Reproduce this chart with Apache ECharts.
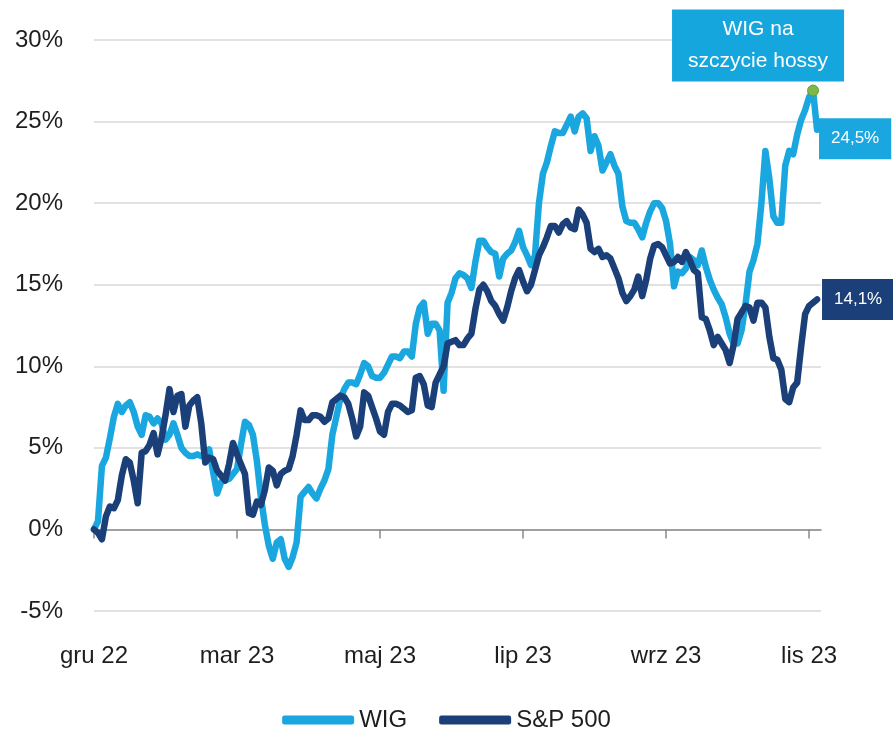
<!DOCTYPE html>
<html><head><meta charset="utf-8">
<script src="https://cdn.jsdelivr.net/npm/echarts/dist/echarts.min.js"></script>
<style>html,body{margin:0;padding:0;background:#fff}#c{width:893px;height:732px}</style>
</head><body><div id="c"></div>
<script>
// Category ticks (every 36 trading-day steps)
const tickLabels = ['gru 22', 'mar 23', 'maj 23', 'lip 23', 'wrz 23', 'lis 23'];
const tickStep = 36;
const seriesNames = ['WIG', 'S&P 500'];
const annotationText = 'WIG na\nszczycie hossy';

// Cumulative return, %
const wig = [
  0.0, 0.5, 3.9, 4.4, 5.6, 6.9, 7.7, 7.2, 7.6, 7.8,
  7.2, 6.3, 5.8, 7.0, 6.9, 6.5, 6.8, 6.5, 5.5, 5.8,
  6.5, 5.8, 5.0, 4.7, 4.5, 4.5, 4.6, 4.5, 4.6, 4.9,
  3.5, 2.2, 2.9, 3.0, 3.1, 3.4, 3.7, 5.2, 6.6, 6.4,
  5.8, 4.2, 2.0, 0.3, -1.0, -1.8, -0.8, -0.6, -1.8, -2.3,
  -1.7, -0.8, 2.0, 2.3, 2.6, 2.2, 1.9, 2.5, 3.0, 3.7,
  5.8, 6.9, 8.0, 8.6, 9.0, 9.0, 8.9, 9.5, 10.2, 10.0,
  9.4, 9.3, 9.3, 9.6, 10.1, 10.6, 10.6, 10.5, 10.9, 10.9,
  10.6, 12.6, 13.6, 13.9, 12.0, 12.6, 12.6, 12.2, 8.5, 13.9,
  14.5, 15.4, 15.7, 15.6, 15.4, 14.8, 16.4, 17.7, 17.7, 17.3,
  17.0, 16.9, 15.5, 16.6, 16.9, 17.1, 17.6, 18.3, 17.3, 16.8,
  16.2, 16.8, 20.0, 21.8, 22.5, 23.5, 24.4, 24.3, 24.3, 24.8,
  25.3, 24.4, 25.3, 25.5, 25.2, 23.2, 24.1, 23.5, 22.0, 22.5,
  23.0, 22.3, 21.8, 19.8, 18.9, 18.8, 18.8, 18.4, 17.9, 18.8,
  19.5, 20.0, 20.0, 19.7, 18.9, 17.5, 14.9, 15.8, 15.7, 16.0,
  16.7, 16.5, 16.2, 17.1, 16.1, 15.3, 14.7, 14.2, 13.8, 13.0,
  12.0, 11.4, 11.4, 12.2, 13.8, 15.8, 16.5, 17.5, 20.0, 23.2,
  21.5, 19.2, 18.8, 18.8, 22.3, 23.2, 23.0, 24.2, 25.1, 25.7,
  26.5, 26.9, 24.5
];
const sp500 = [
  0.0, -0.2, -0.6, 0.8, 1.4, 1.3, 1.8, 3.3, 4.3, 4.1,
  3.0, 1.6, 4.7, 4.8, 5.2, 5.9, 4.6, 5.6, 7.0, 8.6,
  7.2, 8.2, 8.3, 6.3, 7.6, 7.9, 8.1, 6.5, 4.1, 4.4,
  4.3, 3.6, 3.3, 3.0, 4.0, 5.3, 4.6, 4.0, 3.4, 1.0,
  0.9, 1.7, 1.5, 2.4, 3.8, 3.6, 2.7, 3.4, 3.6, 3.7,
  4.5, 5.8, 7.3, 6.7, 6.7, 7.0, 7.0, 6.9, 6.6, 6.8,
  7.8, 8.0, 8.2, 8.1, 7.7, 6.8, 5.7, 6.3, 8.4, 8.2,
  7.5, 6.8, 6.0, 5.8, 7.2, 7.7, 7.7, 7.6, 7.4, 7.2,
  7.3, 9.3, 9.4, 8.9, 7.6, 7.5, 9.0, 9.5, 10.0, 11.4,
  11.5, 11.6, 11.3, 11.3, 11.7, 12.0, 13.5, 14.7, 15.0, 14.6,
  14.0, 13.7, 13.2, 12.8, 13.6, 14.6, 15.4, 15.9, 15.2, 14.6,
  15.0, 15.9, 16.8, 17.3, 17.9, 18.6, 18.6, 18.2, 18.7, 18.9,
  18.5, 18.4, 19.6, 19.3, 18.8, 17.2, 17.0, 17.2, 16.7, 16.8,
  16.6, 16.0, 15.4, 14.5, 14.0, 14.3, 14.7, 15.5, 14.3, 15.3,
  16.6, 17.4, 17.5, 17.3, 16.8, 16.3, 16.4, 16.7, 16.4, 17.0,
  16.5, 15.9, 15.7, 13.0, 12.9, 12.2, 11.3, 11.8, 11.4, 11.0,
  10.2, 11.3, 12.9, 13.3, 13.7, 13.6, 12.8, 13.9, 13.9, 13.6,
  11.8, 10.5, 10.4, 9.8, 8.0, 7.8, 8.7, 9.0, 11.2, 13.2,
  13.7, 13.9, 14.1
];

const FONT = '"Liberation Sans", Arial, sans-serif';
const WIG_COLOR = '#1AA6DF';
const SP_COLOR = '#1B3F78';
const fmtPct = v => v.toFixed(1).replace('.', ',') + '%';
const pairs = arr => arr.map((v, i) => [i, v]);
const xMax = wig.length; // right edge of plot, one step past last point
const tickValues = tickLabels.map((_, i) => i * tickStep);

let peakIdx = 0;
wig.forEach((v, i) => { if (v > wig[peakIdx]) peakIdx = i; });

const chart = echarts.init(document.getElementById('c'), null, { renderer: 'canvas' });
const xBase = {
  type: 'value', min: 0, max: xMax, interval: tickStep,
  splitLine: { show: false }
};
chart.setOption({
  animation: false,
  textStyle: { fontFamily: FONT },
  grid: { left: 94, right: 72, top: 40, bottom: 121, containLabel: false },
  legend: {
    data: seriesNames, top: 703, left: 'center',
    icon: 'roundRect', itemWidth: 72, itemHeight: 9, itemGap: 32,
    textStyle: { fontSize: 24, color: '#1e1e1e', fontFamily: FONT }
  },
  xAxis: [
    Object.assign({}, xBase, {
      position: 'bottom',
      axisLine: { show: false, onZero: false },
      axisTick: { show: false },
      axisLabel: {
        margin: 33, fontSize: 24, color: '#1e1e1e', fontFamily: FONT,
        customValues: tickValues,
        formatter: v => tickLabels[Math.round(v / tickStep)] || ''
      }
    }),
    Object.assign({}, xBase, {
      position: 'bottom',
      axisLine: { show: true, onZero: true, onZeroAxisIndex: 0, lineStyle: { color: '#8a8a8a', width: 1.5 } },
      axisTick: { show: true, inside: false, length: 9, customValues: tickValues, lineStyle: { color: '#8a8a8a', width: 1.5 } },
      axisLabel: { show: false }
    })
  ],
  yAxis: {
    type: 'value', min: -5, max: 30, interval: 5,
    axisLine: { show: false }, axisTick: { show: false },
    axisLabel: { margin: 31, fontSize: 24, color: '#1e1e1e', fontFamily: FONT, formatter: v => v + '%' },
    splitLine: { lineStyle: { color: '#d9d9d9', width: 1.5 } }
  },
  series: [
    {
      name: seriesNames[0], type: 'line', xAxisIndex: 0, data: pairs(wig),
      showSymbol: false, color: WIG_COLOR,
      lineStyle: { width: 6.5, color: WIG_COLOR, join: 'round', cap: 'round' },
      endLabel: {
        show: true, formatter: p => fmtPct(p.value[1]), distance: 2, offset: [0, 9],
        backgroundColor: WIG_COLOR, color: '#fff', fontSize: 17, fontFamily: FONT,
        padding: [12, 12]
      },
      markPoint: {
        symbol: 'circle', symbolSize: 11,
        itemStyle: { color: '#7DB944', borderColor: '#5E9C3A', borderWidth: 1 },
        data: [{ coord: [peakIdx, wig[peakIdx]] }],
        label: {
          show: true, position: 'top', distance: 3, offset: [-55, 0],
          formatter: annotationText, backgroundColor: '#16A6DE', color: '#fff',
          fontSize: 21, lineHeight: 32, padding: [4, 16], fontFamily: FONT
        }
      },
      z: 2
    },
    {
      name: seriesNames[1], type: 'line', xAxisIndex: 0, data: pairs(sp500),
      showSymbol: false, color: SP_COLOR,
      lineStyle: { width: 6.5, color: SP_COLOR, join: 'round', cap: 'round' },
      endLabel: {
        show: true, formatter: p => fmtPct(p.value[1]), distance: 5, offset: [0, 0],
        backgroundColor: SP_COLOR, color: '#fff', fontSize: 17, fontFamily: FONT,
        padding: [12, 12]
      },
      z: 3
    }
  ]
});
</script></body></html>
